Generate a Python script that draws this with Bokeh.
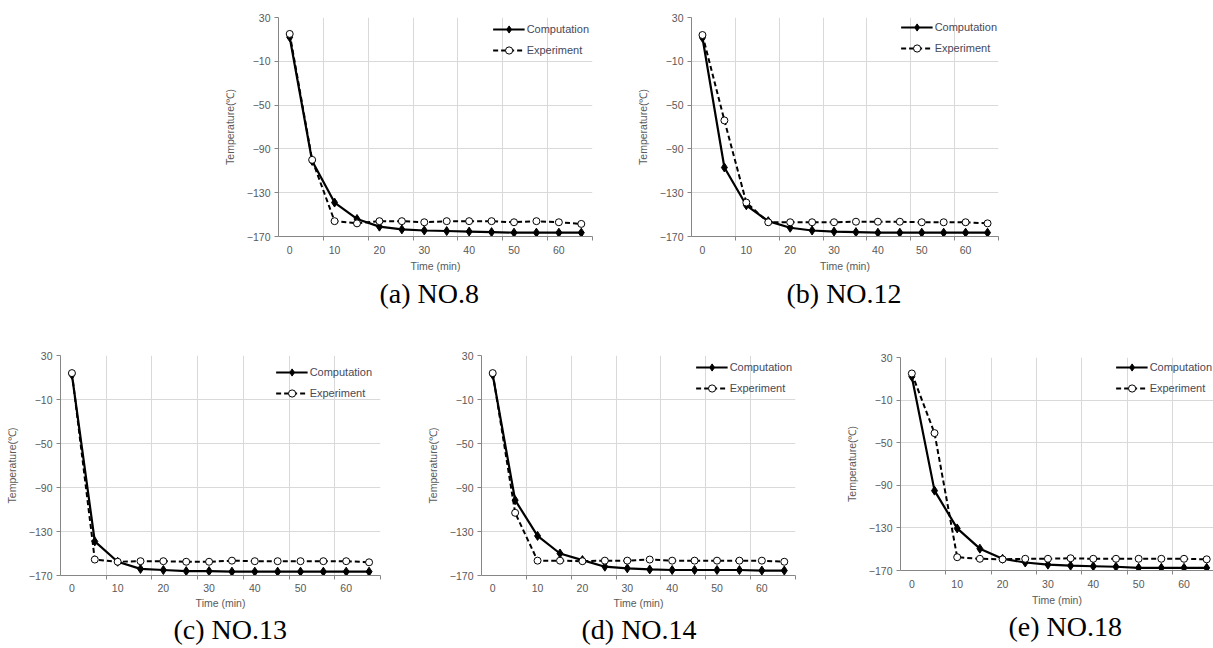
from bokeh.plotting import figure
from bokeh.layouts import row, column
from bokeh.models import Spacer, FixedTicker, Range1d, Legend, LegendItem, Title
from bokeh.embed import file_html
from bokeh.resources import INLINE

# ---------------- data ----------------
time_min = [0, 5, 10, 15, 20, 25, 30, 35, 40, 45, 50, 55, 60, 65]
x_tick_labels = [0, 10, 20, 30, 40, 50, 60]
y_ticks = [-170, -130, -90, -50, -10, 30]
series_names = ["Computation", "Experiment"]
captions = ["(a) NO.8", "(b) NO.12", "(c) NO.13", "(d) NO.14", "(e) NO.18"]

comp_no8 = [12, -101, -139, -154, -161, -163.5, -164.5, -165, -165.5, -166, -166.5, -166.5, -166.5, -166.5]
exp_no8 = [15, -100, -156, -158, -156, -156, -157, -156, -156, -156, -157, -156, -157, -158.5]

comp_no12 = [11.5, -107, -141.5, -156, -162, -164.5, -165.5, -166, -166.5, -166.5, -166.5, -166.5, -166.5, -166.5]
exp_no12 = [14, -64, -139, -157, -157, -157, -157, -156.5, -156.5, -156.5, -157, -157, -157, -158]

comp_no13 = [12.5, -139, -157.5, -164, -165, -166, -166, -166.5, -166.5, -166.5, -166.5, -166.5, -166.5, -166.5]
exp_no13 = [14, -155.5, -157.5, -157, -157, -157.5, -157.5, -156.5, -157, -157, -157, -157, -157, -158]

comp_no14 = [12.5, -101.5, -134, -150, -156, -162, -163.5, -164.5, -165, -165, -165, -165, -165.5, -165.5]
exp_no14 = [14, -113, -156.5, -156.5, -157, -156.5, -156.5, -155.5, -156.5, -156.5, -156.5, -156.5, -156.5, -157.5]

comp_no18 = [12, -95, -130.5, -149.5, -159, -162.5, -164.5, -165.5, -166, -166.5, -167.5, -167.5, -167.5, -167.5]
exp_no18 = [15, -41, -157.5, -159, -159.5, -159, -159, -158.5, -159, -159, -159, -159, -159, -159.5]

# ---------------- styling / layout ----------------
GRID = "#d9d9d9"
AXIS = "#868686"
TXT = "#595959"

# category boundaries (every other one) used for vertical grid lines and ticks
boundaries = [t + 2.5 for t in time_min[1::2]]


def make_panel(caption, comp, exp, geo):
    p = figure(width=geo["w"], height=geo["h"], output_backend="svg", toolbar_location=None,
               x_range=Range1d(-2.5, geo["xend"]), y_range=Range1d(-170, 30),
               min_border_left=geo["l"], min_border_right=geo["r"],
               min_border_top=geo["t"], min_border_bottom=geo["b"])
    p.outline_line_color = None
    p.background_fill_color = "white"
    p.border_fill_color = "white"

    # grids
    p.xgrid.ticker = FixedTicker(ticks=boundaries)
    p.ygrid.ticker = FixedTicker(ticks=y_ticks)
    p.xgrid.grid_line_color = GRID
    p.ygrid.grid_line_color = GRID
    p.xgrid.grid_line_width = 1
    p.ygrid.grid_line_width = 1

    # x axis
    xa = p.xaxis[0]
    xa.ticker = FixedTicker(ticks=x_tick_labels, minor_ticks=boundaries)
    xa.axis_line_color = AXIS
    xa.major_tick_line_color = None
    xa.major_tick_out = 4
    xa.major_tick_in = 0
    xa.minor_tick_line_color = AXIS
    xa.minor_tick_out = 4
    xa.minor_tick_in = 0
    xa.major_label_standoff = geo["xs"]
    xa.major_label_text_font = "Liberation Sans"
    xa.major_label_text_font_size = "10.5px"
    xa.major_label_text_color = TXT
    xa.axis_label = "Time (min)"
    xa.axis_label_text_font = "Liberation Sans"
    xa.axis_label_text_font_size = "10.5px"
    xa.axis_label_text_font_style = "normal"
    xa.axis_label_text_color = TXT
    xa.axis_label_standoff = geo["xls"]

    # y axis
    ya = p.yaxis[0]
    ya.ticker = FixedTicker(ticks=y_ticks)
    ya.axis_line_color = AXIS
    ya.major_tick_line_color = AXIS
    ya.major_tick_out = 4
    ya.major_tick_in = 0
    ya.minor_tick_line_color = None
    ya.major_label_standoff = 4
    ya.major_label_text_font = "Liberation Sans"
    ya.major_label_text_font_size = "10.5px"
    ya.major_label_text_color = TXT
    ya.axis_label = "Temperature(℃)"
    ya.axis_label_text_font = "Liberation Sans"
    ya.axis_label_text_font_size = "10.5px"
    ya.axis_label_text_font_style = "normal"
    ya.axis_label_text_color = TXT
    ya.axis_label_standoff = 8

    # series
    c_line = p.line(time_min, comp, line_color="black", line_width=2.2)
    c_pts = p.scatter(time_min, comp, marker="diamond", size=9, fill_color="black", line_color="black")
    e_line = p.line(time_min, exp, line_color="black", line_width=2, line_dash="5 3")
    e_pts = p.scatter(time_min, exp, marker="circle", size=7, fill_color="white", line_color="black",
                      line_width=1)

    legend = Legend(items=[LegendItem(label=series_names[0], renderers=[c_line, c_pts]),
                           LegendItem(label=series_names[1], renderers=[e_line, e_pts])],
                    location="top_right")
    legend.border_line_color = None
    legend.background_fill_alpha = 0
    legend.label_text_font = "Liberation Sans"
    legend.label_text_font_size = "11px"
    legend.label_text_color = "#484858"
    legend.glyph_width = 32
    legend.glyph_height = 18
    legend.label_height = 18
    legend.spacing = 3
    legend.padding = 2
    legend.margin = geo["lm"]
    legend.label_standoff = 2
    p.add_layout(legend)

    p.add_layout(Title(text=caption, align="left", text_font="Liberation Serif",
                       text_font_size="28px", text_font_style="normal", text_color="black",
                       standoff=geo["ts"], offset=geo["co"]), "below")
    return p


geo_a = dict(w=380, h=330, l=57, r=8, t=17, b=94, xend=67.5, lm=3, co=101, xs=5, xls=3, ts=2)
geo_b = dict(w=373, h=330, l=57, r=8, t=17, b=94, xend=67.5, lm=1, co=95, xs=5, xls=3, ts=2)
geo_c = dict(w=388, h=318, l=60, r=8, t=25, b=73, xend=67.5, lm=8, co=113, xs=4, xls=2, ts=0)
geo_d = dict(w=380, h=318, l=57, r=8, t=25, b=73, xend=67.5, lm=3, co=100, xs=4, xls=2, ts=0)
geo_e = dict(w=371, h=318, l=57, r=0, t=27, b=78, xend=66.5, lm=1, co=108, xs=5, xls=3, ts=0)

pa = make_panel(captions[0], comp_no8, exp_no8, geo_a)
pb = make_panel(captions[1], comp_no12, exp_no12, geo_b)
pc = make_panel(captions[2], comp_no13, exp_no13, geo_c)
pd = make_panel(captions[3], comp_no14, exp_no14, geo_d)
pe = make_panel(captions[4], comp_no18, exp_no18, geo_e)

row1 = row(Spacer(width=220, height=330), pa, Spacer(width=33, height=330), pb)
row2 = row(column(pc), Spacer(width=35, height=318), column(pd), Spacer(width=39, height=318), column(pe))
page = column(row1, row2)

open("out.html", "w").write(file_html(page, INLINE))
